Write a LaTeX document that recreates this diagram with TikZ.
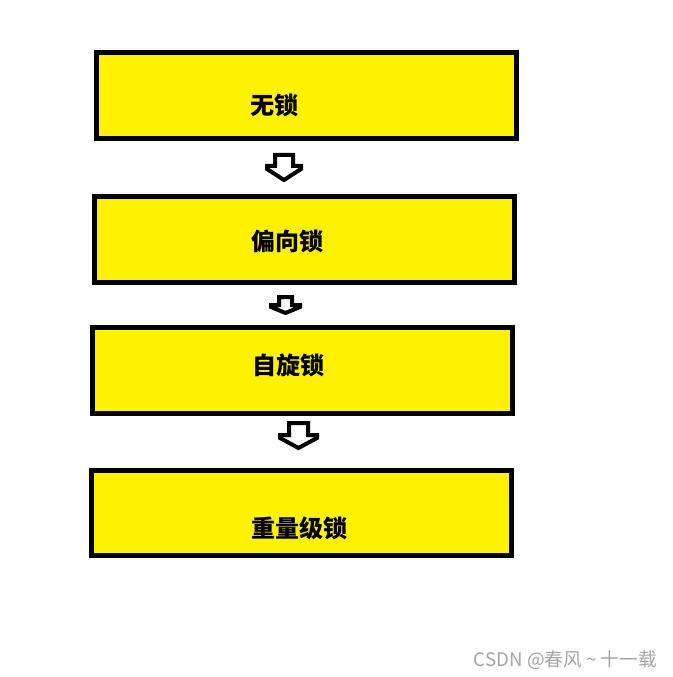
\documentclass[tikz,border=0pt]{standalone}
\usepackage{fontspec}
\newfontfamily\cjk{Noto Sans CJK SC}
\definecolor{boxyellow}{RGB}{255,242,0}
\definecolor{wmgray}{RGB}{165,165,165}
\begin{document}
\begin{tikzpicture}[x=0.75pt,y=-0.75pt,
  box/.style={draw=black,line width=3.75pt,fill=boxyellow,minimum width=315pt,minimum height=64.5pt,inner sep=0pt,outer sep=0pt},
  label/.style={font=\cjk\bfseries\fontsize{18pt}{18pt}\selectfont,inner sep=0pt,text=black},
  barrow/.style={draw=black,line width=3pt,fill=white,line join=miter},
  wm/.style={font=\cjk\fontsize{14pt}{14pt}\selectfont,text=wmgray,inner sep=0pt}]
\useasboundingbox[fill=white] (0,0) rectangle (672,677);
\node[box] (b1) at (306.5,95.5) {};
\node[box] (b2) at (304.5,239.5) {};
\node[box] (b3) at (302.5,370.5) {};
\node[box,minimum height=63.75pt] (b4) at (301.5,513) {};
\node[label] (t1) at (274,105.5) {无锁};
\node[label] (t2) at (287.5,241.5) {偏向锁};
\node[label] (t3) at (288,365) {自旋锁};
\node[label] (t4) at (299,528.5) {重量级锁};
% block arrows between boxes
\draw[barrow] (275,155) -- (293,155) -- (293,166) -- (301,166) -- (301,169) -- (284,180) -- (267,169) -- (267,166) -- (275,166) -- cycle;
\draw[barrow] (279,297) -- (292,297) -- (292,305) -- (300,305) -- (300,307) -- (285.5,313) -- (271,307) -- (271,305) -- (279,305) -- cycle;
\draw[barrow] (289,423) -- (308,423) -- (308,435) -- (317,435) -- (317,438) -- (298.5,448) -- (280,438) -- (280,435) -- (289,435) -- cycle;
\node[wm,anchor=east] (wm) at (657,660) {CSDN @春风 \textasciitilde{} 十一载};
\end{tikzpicture}
\end{document}
